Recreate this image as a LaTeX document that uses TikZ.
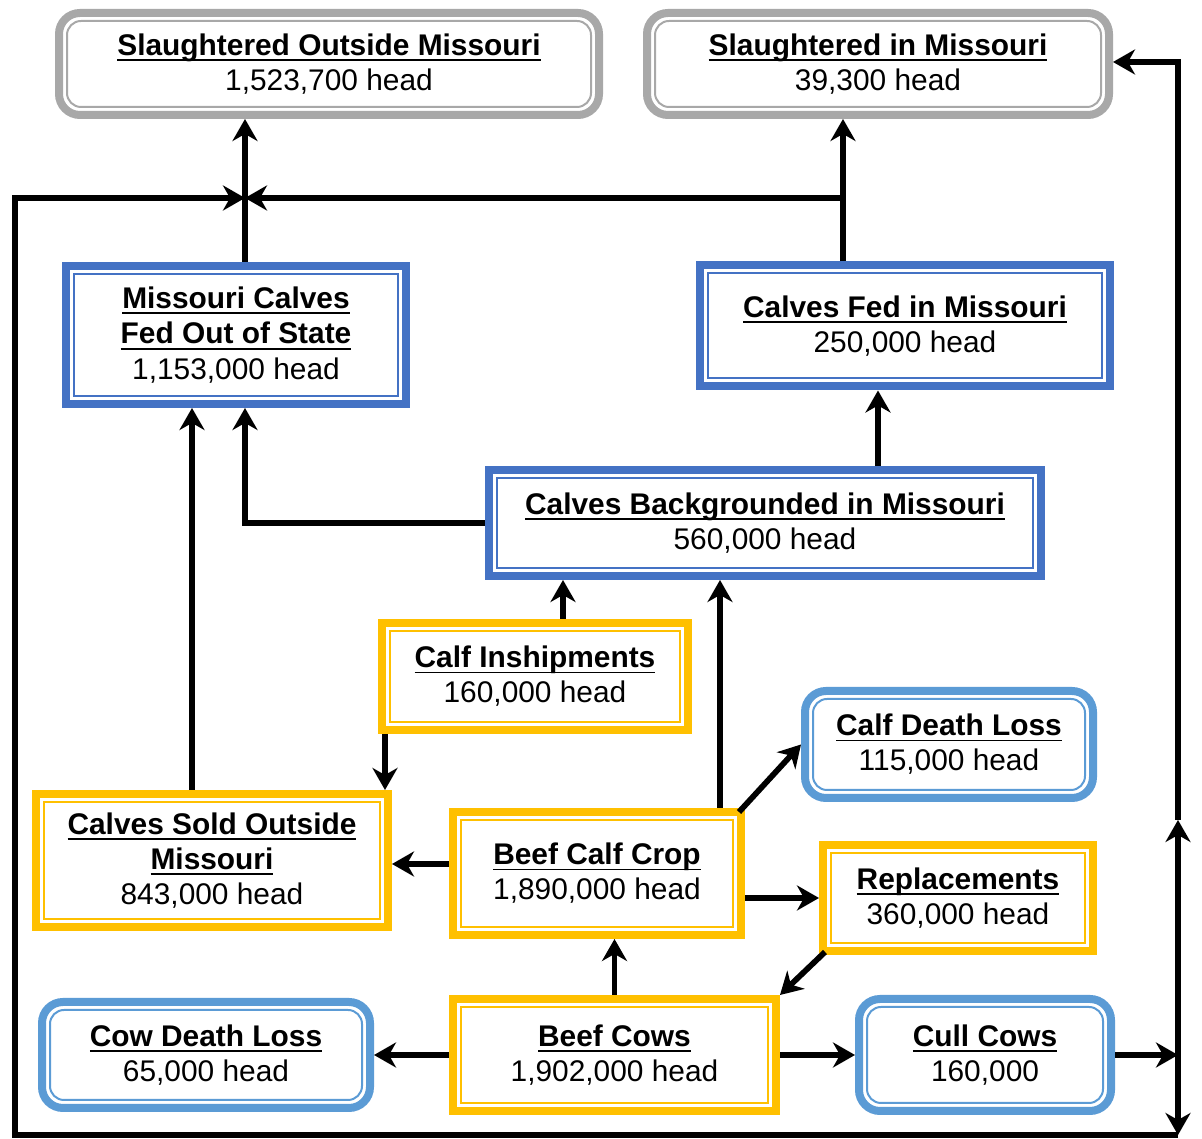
\documentclass[tikz,border=0pt]{standalone}
\usepackage{fontspec}
\setmainfont{Liberation Sans}
\usetikzlibrary{
	arrows.meta,
	calc}

\definecolor{graybrd}{RGB}{168,168,168}
\definecolor{bluebrd}{RGB}{68,114,196}
\definecolor{goldbrd}{RGB}{255,192,0}
\definecolor{skybrd}{RGB}{91,155,213}

\newcommand{\boxtitle}[1]{\setbox0=\hbox{\bfseries #1}\rlap{\rule[-3.2pt]{\wd0}{1.1pt}}\box0}

\tikzset{
	>={Stealth[length=0.44cm,width=0.5cm,inset=0.14cm]},
	flow/.style={line width=0.115cm},
	sqbox/.style={draw=#1, line width=0.16cm, align=center, inner sep=0pt,
		font=\fontsize{17}{20}\selectfont,
		path picture={\draw[#1, line width=0.04cm]
			([shift={(0.16cm,0.16cm)}]path picture bounding box.south west) rectangle
			([shift={(-0.16cm,-0.16cm)}]path picture bounding box.north east);}},
	rndbox/.style={draw=#1, line width=0.16cm, rounded corners=0.42cm, align=center, inner sep=0pt,
		font=\fontsize{17}{20}\selectfont,
		path picture={\draw[#1, line width=0.04cm, rounded corners=0.28cm]
			([shift={(0.16cm,0.16cm)}]path picture bounding box.south west) rectangle
			([shift={(-0.16cm,-0.16cm)}]path picture bounding box.north east);}}
}

\begin{document}
\begin{tikzpicture}
      \useasboundingbox (0,0) rectangle (24.04,22.78);

      \node[rndbox=graybrd, minimum width=10.8cm, minimum height=2.04cm] (SO) at (6.58,21.50)
        {\boxtitle{Slaughtered Outside Missouri}\\1,523,700 head};
      \node[rndbox=graybrd, minimum width=9.24cm, minimum height=2.04cm] (SI) at (17.56,21.50)
        {\boxtitle{Slaughtered in Missouri}\\39,300 head};

      \node[sqbox=bluebrd, minimum width=6.8cm, minimum height=2.76cm] (FO) at (4.72,16.08)
        {\boxtitle{Missouri Calves}\\\boxtitle{Fed Out of State}\\1,153,000 head};
      \node[sqbox=bluebrd, minimum width=8.2cm, minimum height=2.42cm] (FI) at (18.10,16.26)
        {\boxtitle{Calves Fed in Missouri}\\250,000 head};
      \node[sqbox=bluebrd, minimum width=11.04cm, minimum height=2.12cm] (BK) at (15.30,12.32)
        {\boxtitle{Calves Backgrounded in Missouri}\\560,000 head};

      \node[sqbox=goldbrd, minimum width=6.12cm, minimum height=2.14cm] (IN) at (10.70,9.25)
        {\boxtitle{Calf Inshipments}\\160,000 head};
      \node[rndbox=skybrd, minimum width=5.76cm, minimum height=2.14cm] (CD) at (18.98,7.89)
        {\boxtitle{Calf Death Loss}\\115,000 head};

      \node[sqbox=goldbrd, minimum width=7.04cm, minimum height=2.66cm] (CS) at (4.24,5.57)
        {\boxtitle{Calves Sold Outside}\\\boxtitle{Missouri}\\843,000 head};
      \node[sqbox=goldbrd, minimum width=5.76cm, minimum height=2.46cm] (CC) at (11.94,5.31)
        {\boxtitle{Beef Calf Crop}\\1,890,000 head};
      \node[sqbox=goldbrd, minimum width=5.4cm, minimum height=2.12cm] (RP) at (19.16,4.82)
        {\boxtitle{Replacements}\\360,000 head};

      \node[rndbox=skybrd, minimum width=6.56cm, minimum height=2.12cm] (CL) at (4.12,1.68)
        {\boxtitle{Cow Death Loss}\\65,000 head};
      \node[sqbox=goldbrd, minimum width=6.46cm, minimum height=2.24cm] (BC) at (12.29,1.68)
        {\boxtitle{Beef Cows}\\1,902,000 head};
      \node[rndbox=skybrd, minimum width=5.04cm, minimum height=2.24cm] (CU) at (19.70,1.68)
        {\boxtitle{Cull Cows}\\160,000};

      % corners of the outer loop
      \coordinate (TL) at (4.90,18.82);
      \coordinate (TR) at (16.86,18.82);
      \coordinate (LT) at (0.30,18.82);
      \coordinate (BL) at (0.30,0.08);
      \coordinate (BR) at (23.56,0.08);
      \coordinate (RJ) at (23.56,1.68);
      \coordinate (RM) at (23.56,6.38);
      \coordinate (RT) at (23.56,21.54);

      \draw [->, flow] (FO.north -| TL) to (SO.south -| TL);
      \draw [->, flow] (FI.north -| TR) to (SI.south -| TR);
      \draw [->, flow] (TR) to (TL);
      \draw [->, flow] (BR) -- (BL) -- (LT) -- (TL);
      \draw [->, flow] (RJ) to (BR);
      \draw [->, flow] (RJ) to (RM);
      \draw [->, flow] (RM) -- (RT) -- (RT -| SI.east);
      \draw [->, flow] (CU.east) to (RJ);

      \draw [->, flow] (BK.west) -- (BK.west -| TL) -- (FO.south -| TL);
      \draw [->, flow] ([xshift=-0.4cm]CS.north) to ([xshift=-0.4cm]CS.north |- FO.south);
      \draw [->, flow] ([xshift=2.26cm]BK.north) to ([xshift=2.26cm]BK.north |- FI.south);
      \draw [->, flow] ([xshift=0.56cm]IN.north) to ([xshift=0.56cm]IN.north |- BK.south);
      \draw [->, flow] ([xshift=-3cm]IN.south) to ([xshift=-3cm]IN.south |- CS.north);
      \draw [->, flow] ([xshift=2.46cm]CC.north) to ([xshift=2.46cm]CC.north |- BK.south);
      \draw [->, flow] ([shift={(-0.12cm,-0.08cm)}]CC.north east) to (CD.west);
      \draw [->, flow] ([yshift=0.19cm]CC.west) to ([yshift=0.19cm]CC.west -| CS.east);
      \draw [->, flow] (RP.west -| CC.east) to (RP.west);
      \draw [->, flow] ([shift={(0.12cm,0.06cm)}]RP.south west) to (BC.north east);
      \draw [->, flow] (BC.north) to (BC.north |- CC.south);
      \draw [->, flow] (BC.west) to (BC.west -| CL.east);
      \draw [->, flow] (BC.east) to (CU.west);
  \end{tikzpicture}
\end{document}
